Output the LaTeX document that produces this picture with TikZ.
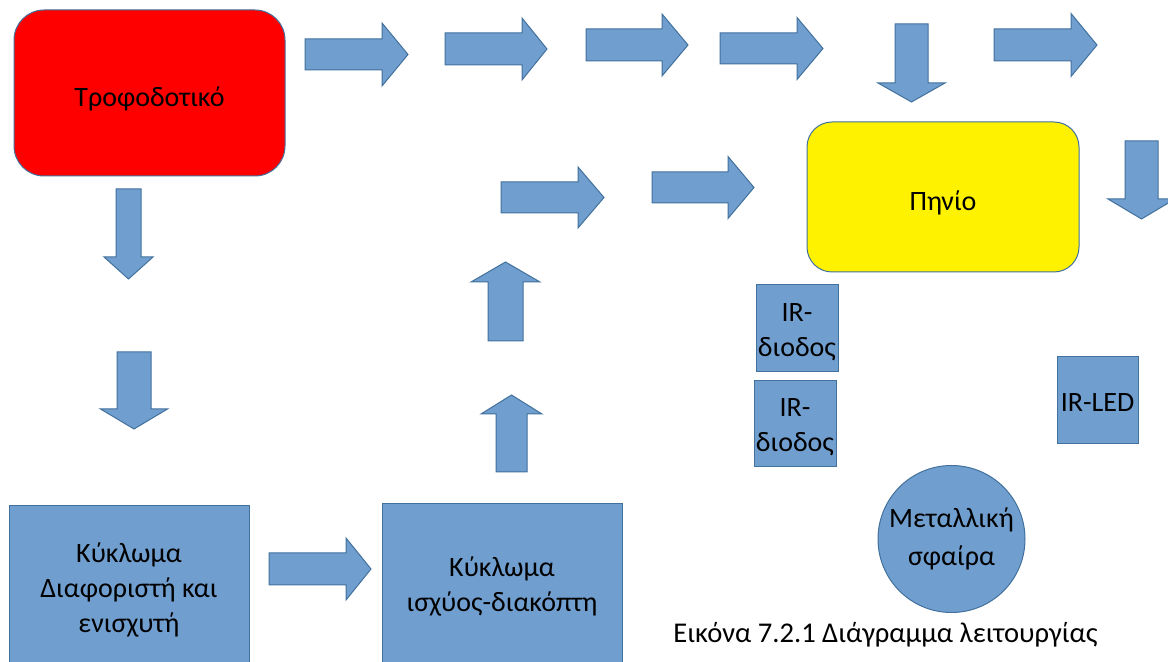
\documentclass[tikz,border=0pt]{standalone}
\usepackage{fontspec}
\setmainfont{Carlito}
\definecolor{bfill}{RGB}{112,158,207}
\definecolor{bline}{RGB}{65,113,156}
\tikzset{
  txt/.style={font=\fontsize{14}{17.5}\selectfont, align=center, text=black},
  blk/.style={draw=bline, line width=0.5pt, fill=bfill, inner sep=0pt, txt},
  barrow/.style={draw=bline, line width=0.5pt, fill=bfill, line join=miter},
  low/.style={text depth=0pt, yshift=-1.8pt},
}
% right arrow: tail x, head base x, tip x, centre y, shaft half, head half
\newcommand\ArrR[6]{\draw[barrow] ({#1},{#4-#5}) -- ({#2},{#4-#5}) -- ({#2},{#4-#6}) -- ({#3},{#4}) -- ({#2},{#4+#6}) -- ({#2},{#4+#5}) -- ({#1},{#4+#5}) -- cycle;}
% vertical arrow: centre x, tail y, head base y, tip y, shaft half, head half
\newcommand\ArrV[6]{\draw[barrow] ({#1-#5},{#2}) -- ({#1-#5},{#3}) -- ({#1-#6},{#3}) -- ({#1},{#4}) -- ({#1+#6},{#3}) -- ({#1+#5},{#3}) -- ({#1+#5},{#2}) -- cycle;}
\begin{document}
\begin{tikzpicture}[x=0.5pt,y=-0.5pt]
\useasboundingbox (0,0) rectangle (1168,662);
\clip (0,0) rectangle (1168,662);
\fill[white] (0,0) rectangle (1168,662);

% boxes
\node[blk, fill=red, rounded corners=15pt, minimum width=135.5pt, minimum height=83pt] (psu) at (149.5,93) {};
\node[txt, low] (psutxt) at (psu) {Τροφοδοτικό};
\node[blk, fill=yellow, rounded corners=12.5pt, minimum width=136pt, minimum height=75pt] (coil) at (943,197) {};
\node[txt, low] (coiltxt) at (coil) {Πηνίο};
\node[blk, minimum width=120pt, minimum height=84pt] (diff) at (129,590) {Κύκλωμα\\Διαφοριστή και\\ενισχυτή};
\node[blk, minimum width=120pt, minimum height=82.5pt] (sw) at (502,586.5) {Κύκλωμα\\ισχύος-διακόπτη};
\node[blk, minimum width=41pt, minimum height=43.5pt] (ir1) at (797,328.5) {};
\node[txt, yshift=-1.8pt] (ir1txt) at (ir1) {IR-\\διοδος};
\node[blk, minimum width=41pt, minimum height=43pt] (ir2) at (795,424) {};
\node[txt, yshift=-1.5pt] (ir2txt) at (ir2) {IR-\\διοδος};
\node[blk, minimum width=40.5pt, minimum height=43.5pt] (led) at (1097.5,400.5) {};
\node[txt, yshift=-1.2pt] (ledtxt) at (led) {IR-LED};
\node[blk, circle, minimum size=73.5pt] (ball) at (951.5,539) {};
\node[txt, font=\fontsize{14}{19}\selectfont] (balltxt) at (ball) {Μεταλλική\\σφαίρα};

% block arrows
\ArrR{305}{382}{408}{54.5}{15.5}{31.5}
\ArrR{445}{522}{547}{49}{16}{31}
\ArrR{586}{662}{688}{45}{16}{31}
\ArrR{720}{797}{823}{48.5}{15.5}{31}
\ArrR{994}{1071}{1097}{45}{16}{31.5}
\ArrR{501}{578}{604}{197.5}{15.5}{30.5}
\ArrR{652}{728}{754}{187.5}{15.5}{31}
\ArrR{269}{346}{371}{569}{16}{31}
\ArrV{911.5}{24}{83}{102}{16.5}{33.5}
\ArrV{1141.5}{141}{199}{219}{16.5}{33.5}
\ArrV{128.5}{189}{257}{279}{12.5}{24.5}
\ArrV{134}{352}{409}{429}{17}{33.5}
\ArrV{505.5}{341}{282}{262}{17.5}{34.5}
\ArrV{511.5}{472}{414}{395}{15.5}{30.5}

% caption
\node[anchor=base west, inner sep=0pt, font=\fontsize{14.3}{17}\selectfont] (cap) at (673,642) {Εικόνα 7.2.1 Διάγραμμα λειτουργίας};
\end{tikzpicture}
\end{document}
